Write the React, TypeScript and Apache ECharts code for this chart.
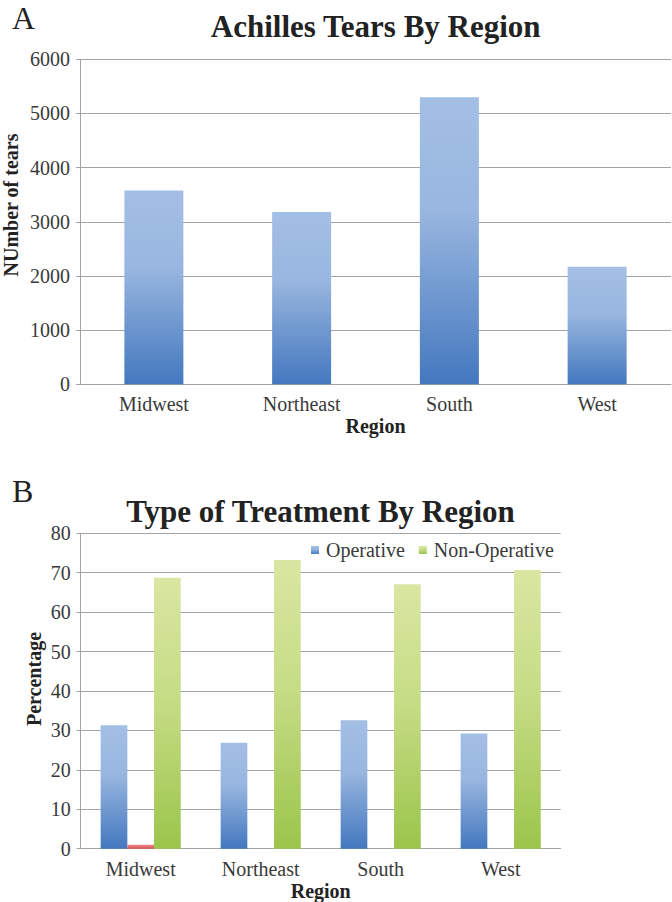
import React, { useEffect, useRef } from "react";
import * as echarts from "echarts";

const regions = ["Midwest", "Northeast", "South", "West"];
const tears = [3580, 3180, 5300, 2170];
const operative = [31.3, 26.9, 32.6, 29.2];
const other = [1.0, null, null, null];
const nonOperative = [68.7, 73.2, 67.1, 70.7];

const FONT = '"Liberation Serif", serif';
const TXT = "#3a3a3a";
const GRID = "#a3a3a3";

const blueGrad = () =>
  new echarts.graphic.LinearGradient(0, 0, 0, 1, [
    { offset: 0, color: "#a4bfe5" },
    { offset: 0.4, color: "#98b6df" },
    { offset: 1, color: "#4478bf" },
  ]);
const greenGrad = () =>
  new echarts.graphic.LinearGradient(0, 0, 0, 1, [
    { offset: 0, color: "#d9e6a2" },
    { offset: 0.45, color: "#c6dc85" },
    { offset: 1, color: "#9bc54b" },
  ]);
const redGrad = () =>
  new echarts.graphic.LinearGradient(0, 0, 0, 1, [
    { offset: 0, color: "#ec8a8a" },
    { offset: 1, color: "#d9534f" },
  ]);

const axisLabel = { fontFamily: FONT, fontSize: 20, color: TXT };
const plain = (v: number) => String(v);

export default function App() {
  const ref = useRef<HTMLDivElement>(null);
  useEffect(() => {
    if (!ref.current) return;
    const chart = echarts.init(ref.current, null, { renderer: "svg" });
    chart.setOption({
      animation: false,
      backgroundColor: "#ffffff",
      title: [
        {
          text: "Achilles Tears By Region",
          left: 375.7,
          top: 11,
          textAlign: "center",
          padding: 0,
          textStyle: { fontFamily: FONT, fontSize: 31, fontWeight: "bold", color: "#222" },
        },
        {
          text: "Type of Treatment By Region",
          left: 320.5,
          top: 496,
          textAlign: "center",
          padding: 0,
          textStyle: { fontFamily: FONT, fontSize: 31, fontWeight: "bold", color: "#222" },
        },
      ],
      graphic: [
        {
          type: "text",
          x: 12,
          y: 18,
          style: { text: "A", font: `32px ${FONT}`, fill: "#222", textAlign: "left", textVerticalAlign: "middle" },
        },
        {
          type: "text",
          x: 12,
          y: 491,
          style: { text: "B", font: `32px ${FONT}`, fill: "#222", textAlign: "left", textVerticalAlign: "middle" },
        },
        {
          type: "text",
          x: 11,
          y: 205,
          rotation: Math.PI / 2,
          style: {
            text: "NUmber of tears",
            font: `bold 20px ${FONT}`,
            fill: "#222",
            textAlign: "center",
            textVerticalAlign: "middle",
          },
        },
        {
          type: "text",
          x: 34,
          y: 679,
          rotation: Math.PI / 2,
          style: {
            text: "Percentage",
            font: `bold 20px ${FONT}`,
            fill: "#222",
            textAlign: "center",
            textVerticalAlign: "middle",
          },
        },
      ],
      legend: {
        data: ["Operative", "Non-Operative"],
        left: 311,
        top: 540,
        padding: 0,
        itemWidth: 8,
        itemHeight: 8,
        itemGap: 14,
        icon: "rect",
        textStyle: { fontFamily: FONT, fontSize: 20, color: TXT, padding: [0, 0, 0, 2] },
      },
      grid: [
        { left: 80, top: 59.3, width: 591, height: 325, containLabel: false },
        { left: 80.7, top: 533.3, width: 480, height: 315.4, containLabel: false },
      ],
      xAxis: [
        {
          type: "category",
          gridIndex: 0,
          data: regions,
          name: "Region",
          nameLocation: "middle",
          nameGap: 32,
          nameTextStyle: { fontFamily: FONT, fontSize: 20, fontWeight: "bold", color: "#222" },
          axisLine: { lineStyle: { color: GRID } },
          axisTick: { length: 5, lineStyle: { color: GRID } },
          axisLabel: { ...axisLabel, margin: 10 },
        },
        {
          type: "category",
          gridIndex: 1,
          data: regions,
          name: "Region",
          nameLocation: "middle",
          nameGap: 32,
          nameTextStyle: { fontFamily: FONT, fontSize: 20, fontWeight: "bold", color: "#222" },
          axisLine: { lineStyle: { color: GRID } },
          axisTick: { length: 5, lineStyle: { color: GRID } },
          axisLabel: { ...axisLabel, margin: 10 },
        },
      ],
      yAxis: [
        {
          type: "value",
          gridIndex: 0,
          min: 0,
          max: 6000,
          interval: 1000,
          axisLine: { show: true, lineStyle: { color: GRID } },
          axisTick: { show: true, length: 4, lineStyle: { color: GRID } },
          splitLine: { lineStyle: { color: GRID, width: 1 } },
          axisLabel: { ...axisLabel, margin: 10, formatter: plain },
        },
        {
          type: "value",
          gridIndex: 1,
          min: 0,
          max: 80,
          interval: 10,
          axisLine: { show: true, lineStyle: { color: GRID } },
          axisTick: { show: true, length: 4, lineStyle: { color: GRID } },
          splitLine: { lineStyle: { color: GRID, width: 1 } },
          axisLabel: { ...axisLabel, margin: 10, formatter: plain },
        },
      ],
      series: [
        {
          name: "Tears",
          type: "bar",
          xAxisIndex: 0,
          yAxisIndex: 0,
          data: tears,
          barWidth: 59,
          itemStyle: { color: blueGrad() },
        },
        {
          name: "Operative",
          type: "bar",
          xAxisIndex: 1,
          yAxisIndex: 1,
          data: operative,
          barWidth: 26.7,
          barGap: "0%",
          itemStyle: { color: blueGrad() },
        },
        {
          name: "Other",
          type: "bar",
          xAxisIndex: 1,
          yAxisIndex: 1,
          data: other,
          barWidth: 26.7,
          barGap: "0%",
          itemStyle: { color: redGrad() },
        },
        {
          name: "Non-Operative",
          type: "bar",
          xAxisIndex: 1,
          yAxisIndex: 1,
          data: nonOperative,
          barWidth: 26.7,
          barGap: "0%",
          itemStyle: { color: greenGrad() },
        },
      ],
    });
    return () => chart.dispose();
  }, []);
  return (
    <div
      ref={ref}
      style={{ position: "fixed", left: 0, top: 0, width: 672, height: 902, background: "#fff" }}
    />
  );
}
